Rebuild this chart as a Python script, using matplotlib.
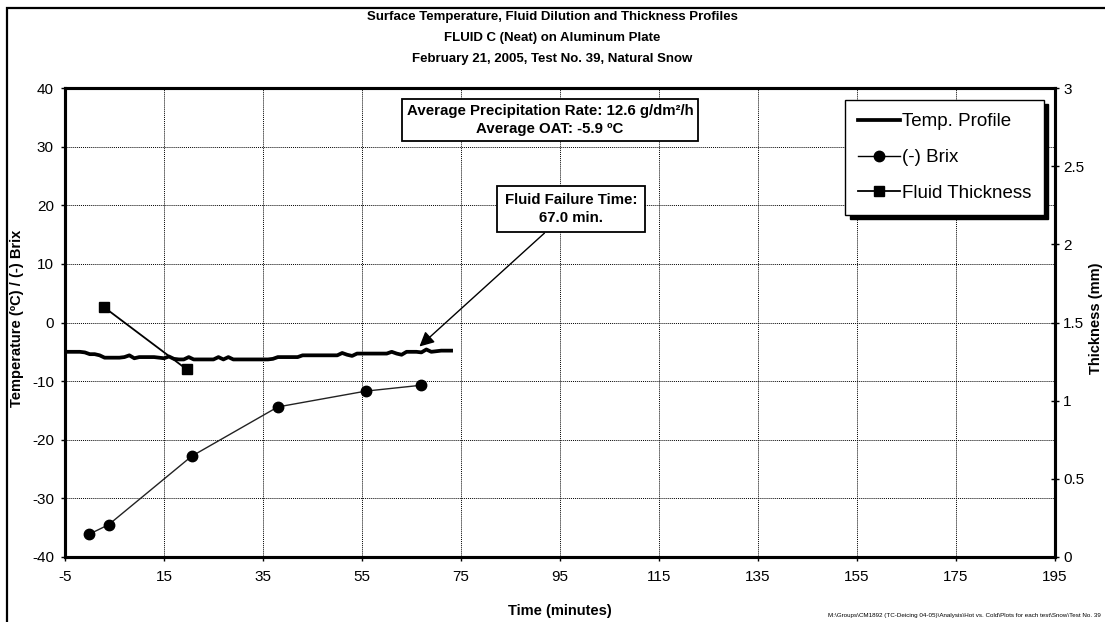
import matplotlib
matplotlib.use("Agg")
import matplotlib.pyplot as plt
from matplotlib.lines import Line2D
from matplotlib.patches import Rectangle

plt.rcParams['font.family'] = ['Liberation Sans', 'DejaVu Sans']
plt.rcParams['axes.unicode_minus'] = False

# ---- data ----
temp_time = [-5, -4, -3, -2, -1, 0, 1, 2, 3, 4, 5, 6, 7, 8, 9, 10, 11, 12, 13, 14,
             15, 16, 17, 18, 19, 20, 21, 22, 23, 24, 25, 26, 27, 28, 29, 30, 31, 32, 33, 34,
             35, 36, 37, 38, 39, 40, 41, 42, 43, 44, 45, 46, 47, 48, 49, 50, 51, 52, 53, 54,
             55, 56, 57, 58, 59, 60, 61, 62, 63, 64, 65, 66, 67, 68, 69, 70, 71, 72, 73]
temp_values = [-5.0, -5.0, -5.0, -5.0, -5.1, -5.4, -5.4, -5.6, -6.0, -6.0, -6.0, -6.0, -5.9, -5.6, -6.1, -5.9, -5.9, -5.9, -5.9, -6.0,
               -6.1, -5.8, -6.2, -6.3, -6.3, -5.9, -6.3, -6.3, -6.3, -6.3, -6.3, -5.9, -6.3, -5.9, -6.3, -6.3, -6.3, -6.3, -6.3, -6.3,
               -6.3, -6.3, -6.2, -5.9, -5.9, -5.9, -5.9, -5.9, -5.6, -5.6, -5.6, -5.6, -5.6, -5.6, -5.6, -5.6, -5.2, -5.5, -5.7, -5.3,
               -5.3, -5.3, -5.3, -5.3, -5.3, -5.3, -5.0, -5.3, -5.5, -5.0, -5.0, -5.0, -5.1, -4.6, -5.0, -4.9, -4.8, -4.8, -4.8]

brix_time = [-0.1, 3.8, 20.6, 38.0, 55.8, 67.0]
brix_values = [-36.1, -34.5, -22.8, -14.4, -11.7, -10.7]

thick_time = [2.8, 19.6]
thick_values = [1.6, 1.2]

x_ticks = [-5, 15, 35, 55, 75, 95, 115, 135, 155, 175, 195]
y_ticks = [-40, -30, -20, -10, 0, 10, 20, 30, 40]
y2_ticks = [0, 0.5, 1, 1.5, 2, 2.5, 3]
y2_labels = ['0', '0.5', '1', '1.5', '2', '2.5', '3']

title_lines = ["Surface Temperature, Fluid Dilution and Thickness Profiles",
               "FLUID C (Neat) on Aluminum Plate",
               "February 21, 2005, Test No. 39, Natural Snow"]

W, H = 1105, 622
fig = plt.figure(figsize=(W / 100, H / 100), dpi=100)
ax = fig.add_axes([65 / W, 1 - 557 / H, (1055 - 65) / W, (557 - 88) / H])
ax2 = ax.twinx()

# figure border
fig.patches.append(Rectangle((7 / W, -0.1), 1.2, 1 - 8 / H + 0.1, transform=fig.transFigure,
                             fill=False, lw=1.6, ec='black', zorder=0))

# temperature
ax.plot(temp_time, temp_values, color='black', lw=2.7, solid_joinstyle='round', zorder=3)
# brix
ax.plot(brix_time, brix_values, color='#222222', lw=1.0, marker='o', ms=7.5,
        mfc='black', mec='black', zorder=4)
# thickness
ax2.plot(thick_time, thick_values, color='black', lw=1.3, marker='s', ms=7.5,
         mfc='black', mec='black', zorder=4)

ax.set_xlim(-5, 195)
ax.set_ylim(-40, 40)
ax2.set_ylim(0, 3)
ax.set_xticks(x_ticks)
ax.set_yticks(y_ticks)
ax2.set_yticks(y2_ticks)
ax2.set_yticklabels(y2_labels)

ax.grid(True, color='black', lw=0.7, ls=(0, (1, 1)))
for a in (ax, ax2):
    for s in a.spines.values():
        s.set_linewidth(2.2)
ax.tick_params(axis='both', direction='out', length=3, width=1, labelsize=11)
ax.tick_params(axis='x', pad=6.5)
ax.tick_params(axis='y', pad=5)
ax2.tick_params(axis='y', direction='inout', length=6, width=1, labelsize=11, pad=3)

ax.set_xlabel('Time (minutes)', fontsize=10.5, fontweight='bold')
ax.xaxis.set_label_coords(0.5, (557 - 604) / 469)
ax.set_ylabel('Temperature (ºC) / (-) Brix', fontsize=10.5, fontweight='bold')
ax.yaxis.set_label_coords((24 - 65) / 990, (557 - 318) / 469)
fig.text(1096 / W, 1 - 318 / H, 'Thickness (mm)', rotation=90, ha='center', va='center',
         fontsize=10.5, fontweight='bold')

# titles
for i, t in enumerate(title_lines):
    fig.text(0.5, 1 - (17 + 21 * i) / H, t, ha='center', va='center', fontsize=9.5,
             fontweight='bold')

# footer
fig.text(1101 / W, 1 - 615 / H,
         r"M:\Groups\CM1892 (TC-Deicing 04-05)\Analysis\Hot vs. Cold\Plots for each test\Snow\Test No. 39",
         ha='right', va='center', fontsize=4.5)

# info box
ax2.text((550 - 65) / 990, (557 - 120) / 469,
         "Average Precipitation Rate: 12.6 g/dm²/h\nAverage OAT: -5.9 ºC",
         transform=ax2.transAxes, ha='center', va='center', fontsize=10.8, fontweight='bold',
         linespacing=1.45,
         bbox=dict(boxstyle='square,pad=0.3', fc='white', ec='black', lw=1.3), zorder=6)

# failure annotation
ax2.annotate("Fluid Failure Time:\n67.0 min.",
             xy=(66.6, -4.1), xycoords=ax.transData,
             xytext=((571 - 65) / 990, (557 - 209) / 469), textcoords='axes fraction',
             ha='center', va='center', fontsize=10.8, fontweight='bold', linespacing=1.35,
             bbox=dict(boxstyle='square,pad=0.5', fc='white', ec='black', lw=1.3),
             arrowprops=dict(arrowstyle='-|>', color='black', lw=1.0, mutation_scale=22,
                             shrinkA=0, shrinkB=0),
             zorder=6)

# legend
handles = [Line2D([], [], color='black', lw=2.7),
           Line2D([], [], color='black', lw=1.0, marker='o', ms=7.5),
           Line2D([], [], color='black', lw=1.3, marker='s', ms=7.5)]
labels = ['Temp. Profile', '(-) Brix', 'Fluid Thickness']
leg = ax2.legend(handles, labels, loc='upper right', bbox_to_anchor=(0.989, (557 - 100) / 469),
                 borderaxespad=0, fontsize=13.5, frameon=True, fancybox=False, framealpha=1,
                 edgecolor='black', handlelength=2.2, handletextpad=0.1,
                 labelspacing=1.0, borderpad=0.7,
                 shadow={'color': 'black', 'alpha': 1, 'ox': 3, 'oy': -3})
leg.get_frame().set_linewidth(1.0)
leg.set_zorder(7)

fig.savefig('out.png', dpi=100)
